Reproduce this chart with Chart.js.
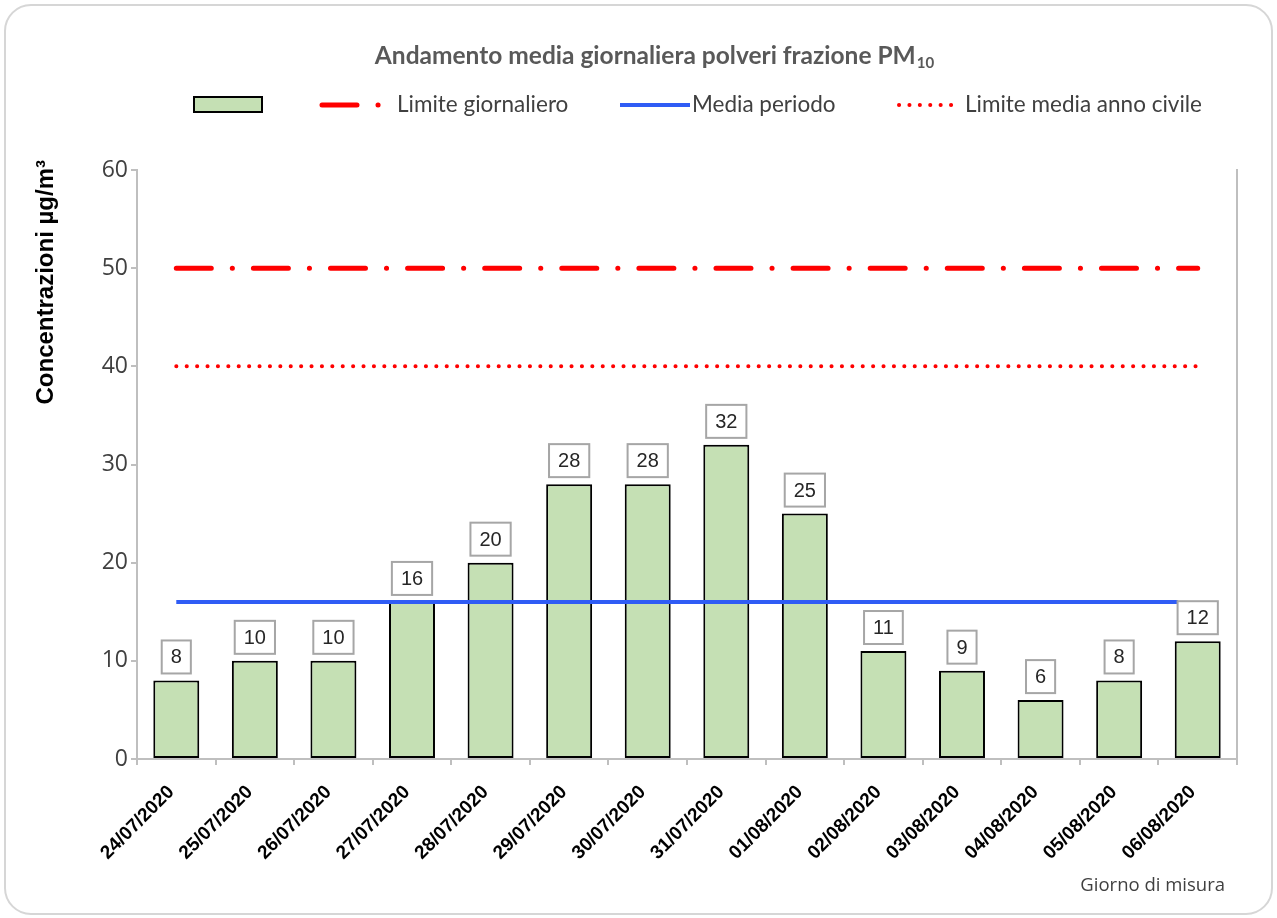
<!DOCTYPE html>
<html>
<head>
<meta charset="utf-8">
<title>Andamento media giornaliera polveri frazione PM10</title>
<script src="https://cdn.jsdelivr.net/npm/chart.js@4.4.1/dist/chart.umd.min.js"></script>
<style>
  html, body { margin: 0; padding: 0; background: #ffffff; }
  canvas { display: block; }
</style>
</head>
<body>
<canvas id="grafico" width="1277" height="918"></canvas>
<script>
// Giorni di misura e concentrazioni medie giornaliere PM10 (µg/m³)
const giorni = ['24/07/2020', '25/07/2020', '26/07/2020', '27/07/2020', '28/07/2020',
  '29/07/2020', '30/07/2020', '31/07/2020', '01/08/2020', '02/08/2020',
  '03/08/2020', '04/08/2020', '05/08/2020', '06/08/2020'];
const pm10 = [8, 10, 10, 16, 20, 28, 28, 32, 25, 11, 9, 6, 8, 12];

// Limiti di legge, uno per giorno
const limiteGiornaliero = [50, 50, 50, 50, 50, 50, 50, 50, 50, 50, 50, 50, 50, 50];
const limiteAnnoCivile = [40, 40, 40, 40, 40, 40, 40, 40, 40, 40, 40, 40, 40, 40];

// Media del periodo: valore e tratto coperto (indici dei giorni)
const mediaPeriodo = [
  { x: 0, y: 16 },
  { x: 12.75, y: 16 }
];

// Scala delle concentrazioni
const yMin = 0;
const yMax = 60;
const yPasso = 10;

const VERDE = '#c5e0b4';
const ROSSO = '#ff0000';
const BLU = '#2f5cf5';
const GRIGIO_ASSE = '#bfbfbf';
const TESTO = '#404040';

// Cornice arrotondata attorno all'intero grafico
const cornice = {
  id: 'cornice',
  beforeDraw(chart) {
    const ctx = chart.ctx;
    ctx.save();
    ctx.fillStyle = '#ffffff';
    ctx.fillRect(0, 0, chart.width, chart.height);
    ctx.strokeStyle = '#d6d6d6';
    ctx.lineWidth = 2;
    ctx.beginPath();
    ctx.roundRect(5, 5, chart.width - 10, chart.height - 9, 26);
    ctx.stroke();
    ctx.restore();
  }
};

// Titolo con pedice, legenda su una riga e titoli degli assi
const intestazione = {
  id: 'intestazione',
  afterDraw(chart) {
    const ctx = chart.ctx;
    const area = chart.chartArea;
    ctx.save();
    // titolo
    const principale = 'Andamento media giornaliera polveri frazione PM';
    const pedice = '10';
    ctx.fillStyle = '#595959';
    ctx.textBaseline = 'middle';
    ctx.textAlign = 'left';
    ctx.font = 'bold 24.5px Lato';
    const w1 = ctx.measureText(principale).width;
    ctx.font = 'bold 15px Lato';
    const w2 = ctx.measureText(pedice).width;
    const x0 = 654 - (w1 + w2) / 2;
    ctx.font = 'bold 24.5px Lato';
    ctx.fillText(principale, x0, 56);
    ctx.font = 'bold 15px Lato';
    ctx.fillText(pedice, x0 + w1 + 1, 63);

    // legenda
    const ds = chart.data.datasets;
    const yL = 105;
    ctx.fillStyle = ds[0].backgroundColor;
    ctx.fillRect(194, 97, 68, 15);
    ctx.strokeStyle = ds[0].borderColor;
    ctx.lineWidth = 2;
    ctx.strokeRect(194, 97, 68, 15);

    const tratto = (x1, x2, d) => {
      ctx.save();
      ctx.strokeStyle = d.borderColor;
      ctx.lineWidth = d.borderWidth;
      ctx.lineCap = d.borderCapStyle || 'butt';
      ctx.setLineDash(d.borderDash || []);
      ctx.beginPath();
      ctx.moveTo(x1, yL);
      ctx.lineTo(x2, yL);
      ctx.stroke();
      ctx.restore();
    };
    ctx.font = '22.5px Lato';
    ctx.fillStyle = TESTO;
    ctx.textAlign = 'left';
    ctx.textBaseline = 'middle';

    tratto(322, 380, ds[1]);
    ctx.fillText(ds[1].label, 397, yL);

    tratto(620, 690, ds[3]);
    ctx.fillText(ds[3].label, 692, yL);

    tratto(899, 960, ds[2]);
    ctx.fillText(ds[2].label, 965, yL);

    // titolo asse verticale
    ctx.save();
    ctx.translate(46, 160);
    ctx.rotate(-Math.PI / 2);
    ctx.font = 'bold 24px "Liberation Sans", Arial';
    ctx.fillStyle = '#000000';
    ctx.textAlign = 'right';
    ctx.textBaseline = 'middle';
    ctx.fillText('Concentrazioni µg/m³', 0, 0);
    ctx.restore();

    // titolo asse orizzontale
    ctx.font = '18.5px "Open Sans"';
    ctx.fillStyle = TESTO;
    ctx.textAlign = 'right';
    ctx.textBaseline = 'middle';
    ctx.fillText('Giorno di misura', area.right - 12, 886);
    ctx.restore();
  }
};

// Etichette dei valori in riquadro sopra le barre
const etichetteValori = {
  id: 'etichetteValori',
  afterDatasetsDraw(chart) {
    const ctx = chart.ctx;
    const meta = chart.getDatasetMeta(0);
    const valori = chart.data.datasets[0].data;
    ctx.save();
    ctx.font = '20px "Liberation Sans", Arial';
    ctx.textAlign = 'center';
    ctx.textBaseline = 'middle';
    meta.data.forEach((barra, i) => {
      const testo = String(valori[i]);
      const w = ctx.measureText(testo).width + 18;
      const h = 33;
      const basso = barra.y - 7;
      const x = barra.x - w / 2;
      ctx.fillStyle = '#ffffff';
      ctx.fillRect(x, basso - h, w, h);
      ctx.strokeStyle = '#a6a6a6';
      ctx.lineWidth = 2;
      ctx.strokeRect(x, basso - h, w, h);
      ctx.fillStyle = '#262626';
      ctx.fillText(testo, barra.x, basso - h / 2 + 1);
    });
    ctx.restore();
  }
};

new Chart(document.getElementById('grafico'), {
  type: 'bar',
  data: {
    labels: giorni,
    datasets: [
      {
        type: 'bar',
        label: '',
        data: pm10,
        backgroundColor: VERDE,
        borderColor: '#000000',
        borderWidth: 2,
        borderSkipped: false,
        grouped: false,
        barPercentage: 0.585,
        categoryPercentage: 1,
        order: 4
      },
      {
        type: 'line',
        label: 'Limite giornaliero',
        data: limiteGiornaliero,
        borderColor: ROSSO,
        borderWidth: 5,
        borderDash: [35, 21, 0.1, 21],
        borderCapStyle: 'round',
        pointRadius: 0,
        fill: false,
        order: 2
      },
      {
        type: 'line',
        label: 'Limite media anno civile',
        data: limiteAnnoCivile,
        borderColor: ROSSO,
        borderWidth: 4,
        borderDash: [0.1, 10.3],
        borderCapStyle: 'round',
        pointRadius: 0,
        fill: false,
        order: 3
      },
      {
        type: 'line',
        label: 'Media periodo',
        data: mediaPeriodo,
        xAxisID: 'xMedia',
        borderColor: BLU,
        borderWidth: 4,
        pointRadius: 0,
        fill: false,
        order: 1
      }
    ]
  },
  options: {
    responsive: false,
    animation: false,
    devicePixelRatio: 1,
    layout: { padding: { top: 170, right: 40, left: 0, bottom: 0 } },
    plugins: {
      legend: { display: false },
      title: { display: false },
      tooltip: { enabled: false }
    },
    scales: {
      x: {
        type: 'category',
        offset: true,
        grid: {
          offset: true,
          drawOnChartArea: false,
          drawTicks: true,
          tickLength: 6,
          color: GRIGIO_ASSE,
          lineWidth: 2
        },
        border: { display: true, color: GRIGIO_ASSE, width: 2 },
        ticks: {
          minRotation: 45,
          maxRotation: 45,
          autoSkip: false,
          padding: 16,
          labelOffset: -5,
          color: '#000000',
          font: { family: '"Liberation Sans", Arial', size: 19, weight: 'bold' }
        },
        afterFit(scale) { scale.height = 159; }
      },
      xMedia: {
        type: 'linear',
        display: false,
        offset: false,
        min: -0.5,
        max: giorni.length - 0.5
      },
      y: {
        position: 'left',
        min: yMin,
        max: yMax,
        ticks: {
          stepSize: yPasso,
          padding: 3,
          color: TESTO,
          font: { family: '"Open Sans"', size: 23 }
        },
        grid: {
          drawOnChartArea: false,
          drawTicks: true,
          tickLength: 6,
          color: GRIGIO_ASSE,
          lineWidth: 2
        },
        border: { display: true, color: GRIGIO_ASSE, width: 2 },
        afterFit(scale) { scale.width = 137; }
      },
      yDestra: {
        position: 'right',
        min: yMin,
        max: yMax,
        ticks: { display: false },
        grid: { drawOnChartArea: false, drawTicks: false },
        border: { display: true, color: GRIGIO_ASSE, width: 2 },
        afterFit(scale) { scale.width = 0; }
      }
    }
  },
  plugins: [cornice, intestazione, etichetteValori]
});
</script>
</body>
</html>
